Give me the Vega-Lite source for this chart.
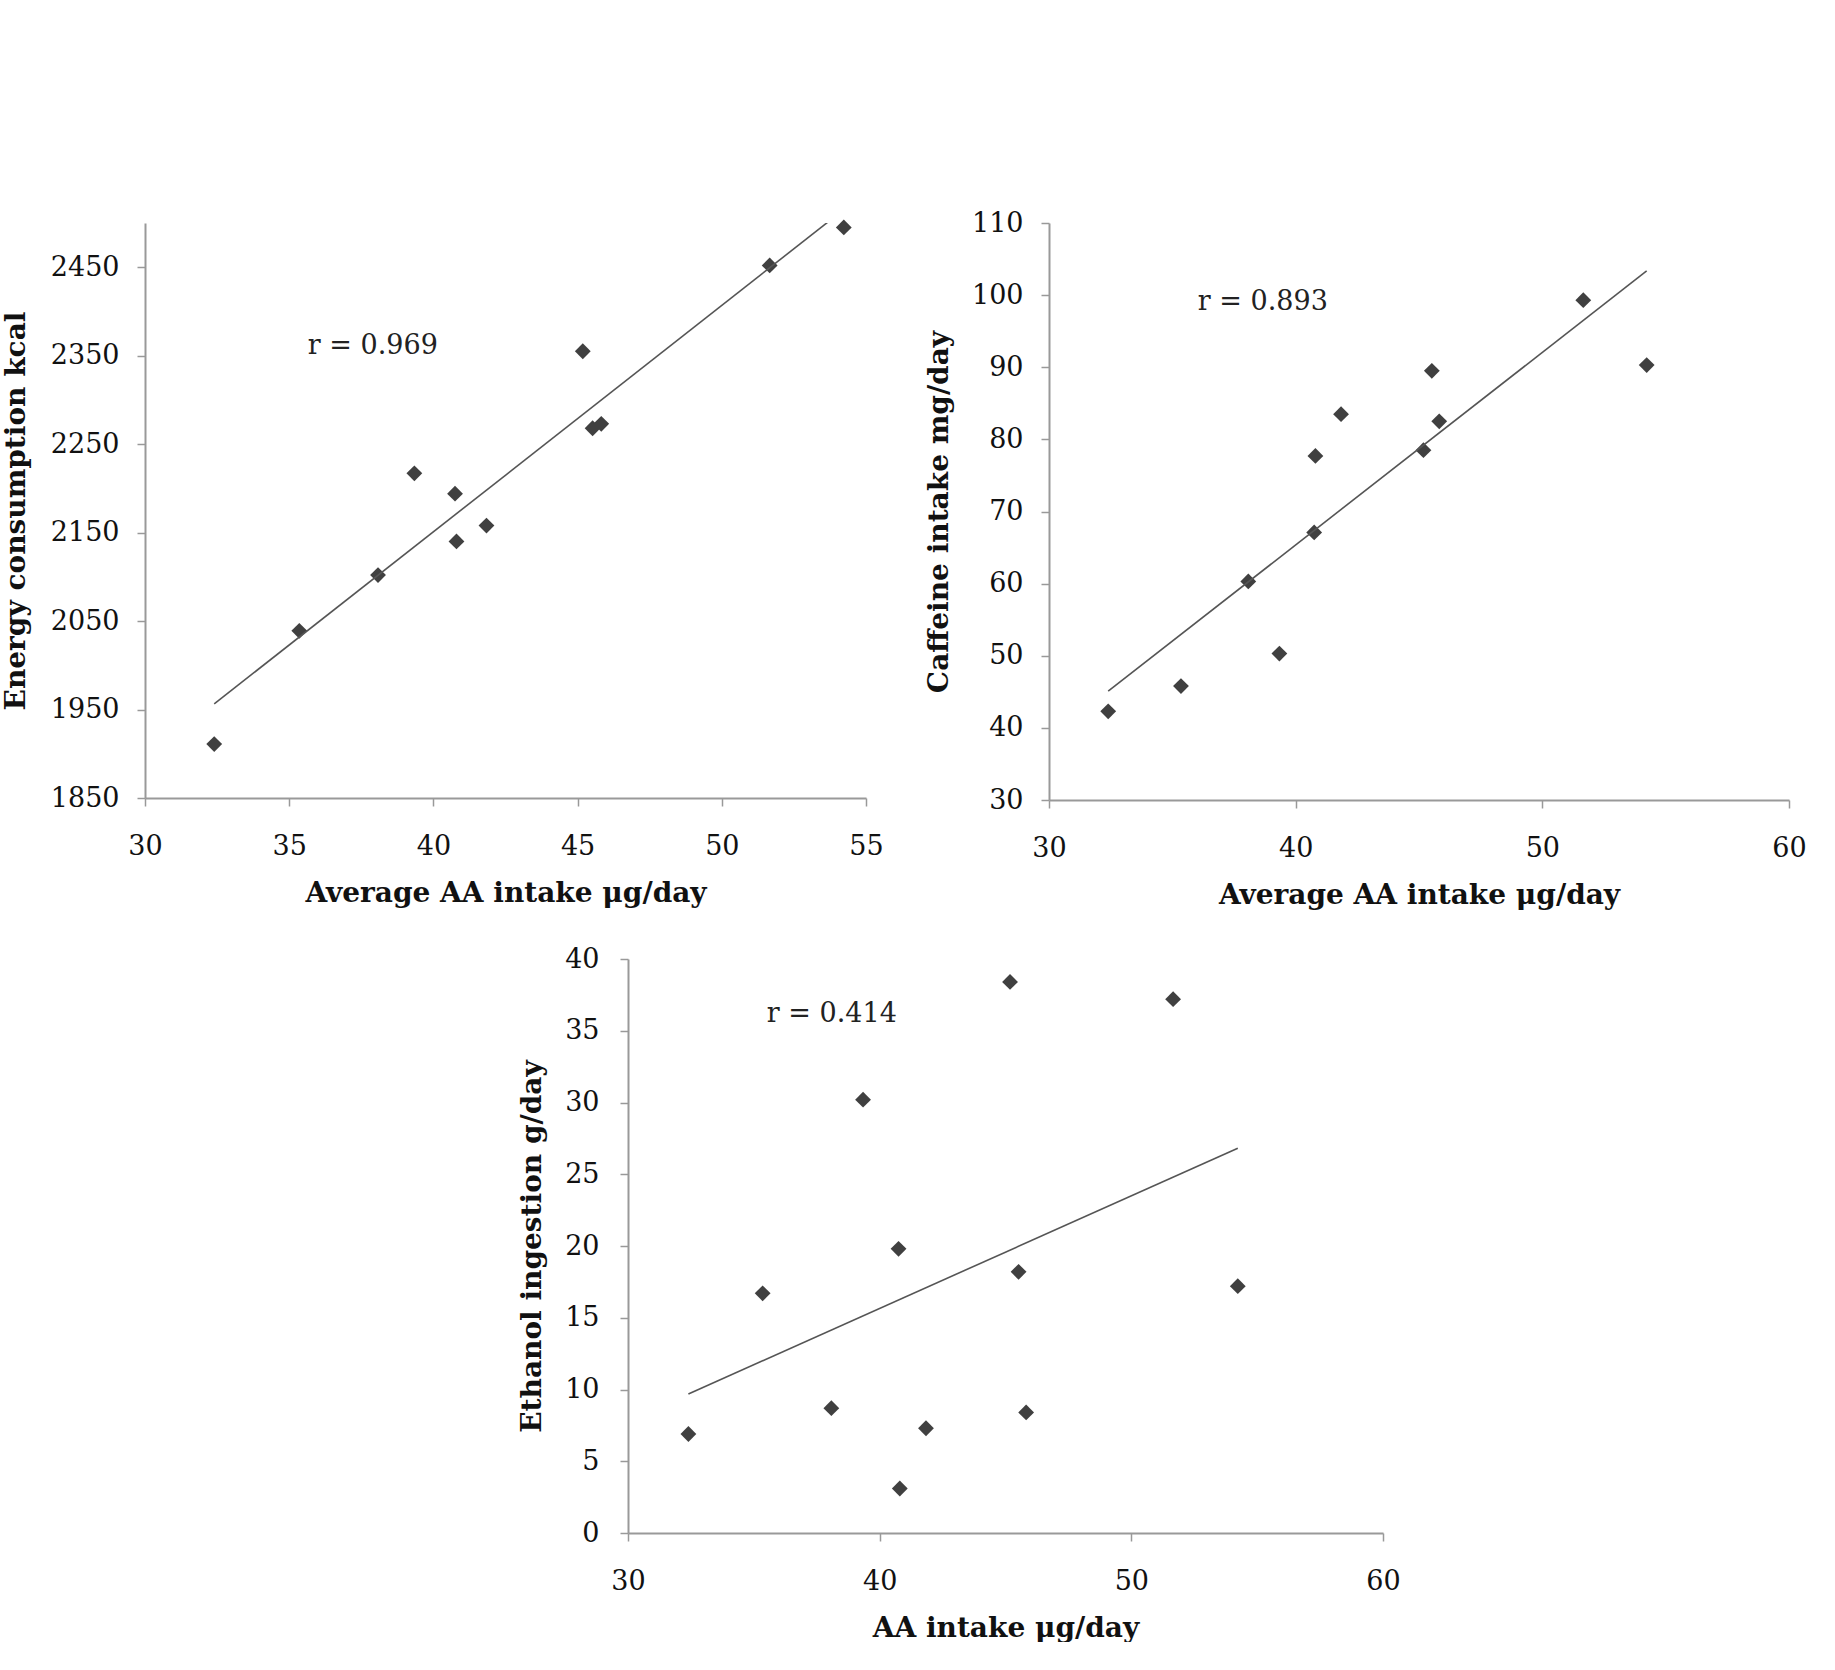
{
  "$schema": "https://vega.github.io/schema/vega-lite/v6.json",
  "background": "white",
  "autosize": {"type": "pad"},
  "padding": {"left": 2, "top": 209, "right": 0, "bottom": 0},
  "data": {
    "values": [
      {"aa": 32.4, "energy": 1911, "caffeine": 42.3, "ethanol": 6.9},
      {"aa": 35.35, "energy": 2039, "caffeine": 45.8, "ethanol": 16.7},
      {"aa": 38.08, "energy": 2102, "caffeine": 60.3, "ethanol": 8.7},
      {"aa": 39.34, "energy": 2217, "caffeine": 50.3, "ethanol": 30.2},
      {"aa": 40.75, "energy": 2194, "caffeine": 67.1, "ethanol": 19.8},
      {"aa": 40.8, "energy": 2140, "caffeine": 77.7, "ethanol": 3.1},
      {"aa": 41.84, "energy": 2158, "caffeine": 83.5, "ethanol": 7.3},
      {"aa": 45.18, "energy": 2355, "caffeine": 78.5, "ethanol": 38.4},
      {"aa": 45.52, "energy": 2268, "caffeine": 89.5, "ethanol": 18.2},
      {"aa": 45.82, "energy": 2273, "caffeine": 82.5, "ethanol": 8.4},
      {"aa": 51.66, "energy": 2452, "caffeine": 99.3, "ethanol": 37.2},
      {"aa": 54.23, "energy": 2495, "caffeine": 90.3, "ethanol": 17.2}
    ]
  },
  "config": {
    "view": {"stroke": null},
    "axis": {
      "grid": false,
      "domainColor": "#999999",
      "domainWidth": 2,
      "tickColor": "#999999",
      "tickWidth": 1.5,
      "tickSize": 8,
      "labelFont": "DejaVu Serif",
      "labelFontSize": 27,
      "labelColor": "#111111",
      "labelFlush": false,
      "format": "d",
      "titleFont": "DejaVu Serif",
      "titleFontSize": 28,
      "titleFontWeight": "bold",
      "titleColor": "#111111"
    },
    "axisX": {"labelPadding": 27, "titlePadding": 20},
    "axisY": {"labelPadding": 18},
    "text": {"font": "DejaVu Serif", "fontSize": 27, "color": "#222222"}
  },
  "spacing": 36,
  "vconcat": [
    {
      "spacing": 41,
      "hconcat": [
        {
          "width": 721,
          "height": 575,
          "layer": [
            {
              "mark": {"type": "point", "shape": "diamond", "filled": true, "size": 250, "color": "#404040", "opacity": 1},
              "encoding": {
                "x": {"field": "aa", "type": "quantitative", "scale": {"domain": [30, 55], "nice": false, "zero": false}, "axis": {"values": [30, 35, 40, 45, 50, 55], "title": "Average AA intake μg/day"}},
                "y": {"field": "energy", "type": "quantitative", "scale": {"domain": [1850, 2500], "nice": false, "zero": false}, "axis": {"values": [1850, 1950, 2050, 2150, 2250, 2350, 2450], "title": "Energy consumption kcal", "titlePadding": 20}}
              }
            },
            {
              "transform": [{"regression": "energy", "on": "aa"}],
              "mark": {"type": "line", "color": "#555555", "strokeWidth": 1.6, "clip": true},
              "encoding": {
                "x": {"field": "aa", "type": "quantitative"},
                "y": {"field": "energy", "type": "quantitative"}
              }
            },
            {
              "data": {"values": [{}]},
              "mark": {"type": "text", "text": "r = 0.969"},
              "encoding": {
                "x": {"datum": 37.9, "type": "quantitative"},
                "y": {"datum": 2361, "type": "quantitative"}
              }
            }
          ]
        },
        {
          "width": 740,
          "height": 577,
          "layer": [
            {
              "mark": {"type": "point", "shape": "diamond", "filled": true, "size": 250, "color": "#404040", "opacity": 1},
              "encoding": {
                "x": {"field": "aa", "type": "quantitative", "scale": {"domain": [30, 60], "nice": false, "zero": false}, "axis": {"values": [30, 40, 50, 60], "title": "Average AA intake μg/day"}},
                "y": {"field": "caffeine", "type": "quantitative", "scale": {"domain": [30, 110], "nice": false, "zero": false}, "axis": {"values": [30, 40, 50, 60, 70, 80, 90, 100, 110], "title": "Caffeine intake mg/day", "titlePadding": 18}}
              }
            },
            {
              "transform": [{"regression": "caffeine", "on": "aa"}],
              "mark": {"type": "line", "color": "#555555", "strokeWidth": 1.6, "clip": true},
              "encoding": {
                "x": {"field": "aa", "type": "quantitative"},
                "y": {"field": "caffeine", "type": "quantitative"}
              }
            },
            {
              "data": {"values": [{}]},
              "mark": {"type": "text", "text": "r = 0.893"},
              "encoding": {
                "x": {"datum": 38.67, "type": "quantitative"},
                "y": {"datum": 99.0, "type": "quantitative"}
              }
            }
          ]
        }
      ]
    },
    {
      "spacing": 0,
      "hconcat": [
        {
          "width": 373,
          "height": 10,
          "data": {"values": []},
          "mark": "point"
        },
        {
          "width": 755,
          "height": 574,
          "layer": [
            {
              "mark": {"type": "point", "shape": "diamond", "filled": true, "size": 250, "color": "#404040", "opacity": 1},
              "encoding": {
                "x": {"field": "aa", "type": "quantitative", "scale": {"domain": [30, 60], "nice": false, "zero": false}, "axis": {"values": [30, 40, 50, 60], "title": "AA intake μg/day"}},
                "y": {"field": "ethanol", "type": "quantitative", "scale": {"domain": [0, 40], "nice": false, "zero": false}, "axis": {"values": [0, 5, 10, 15, 20, 25, 30, 35, 40], "title": "Ethanol ingestion g/day", "titlePadding": 18, "labelPadding": 21}}
              }
            },
            {
              "transform": [{"regression": "ethanol", "on": "aa"}],
              "mark": {"type": "line", "color": "#555555", "strokeWidth": 1.6, "clip": true},
              "encoding": {
                "x": {"field": "aa", "type": "quantitative"},
                "y": {"field": "ethanol", "type": "quantitative"}
              }
            },
            {
              "data": {"values": [{}]},
              "mark": {"type": "text", "text": "r = 0.414"},
              "encoding": {
                "x": {"datum": 38.1, "type": "quantitative"},
                "y": {"datum": 36.2, "type": "quantitative"}
              }
            }
          ]
        }
      ]
    }
  ]
}
